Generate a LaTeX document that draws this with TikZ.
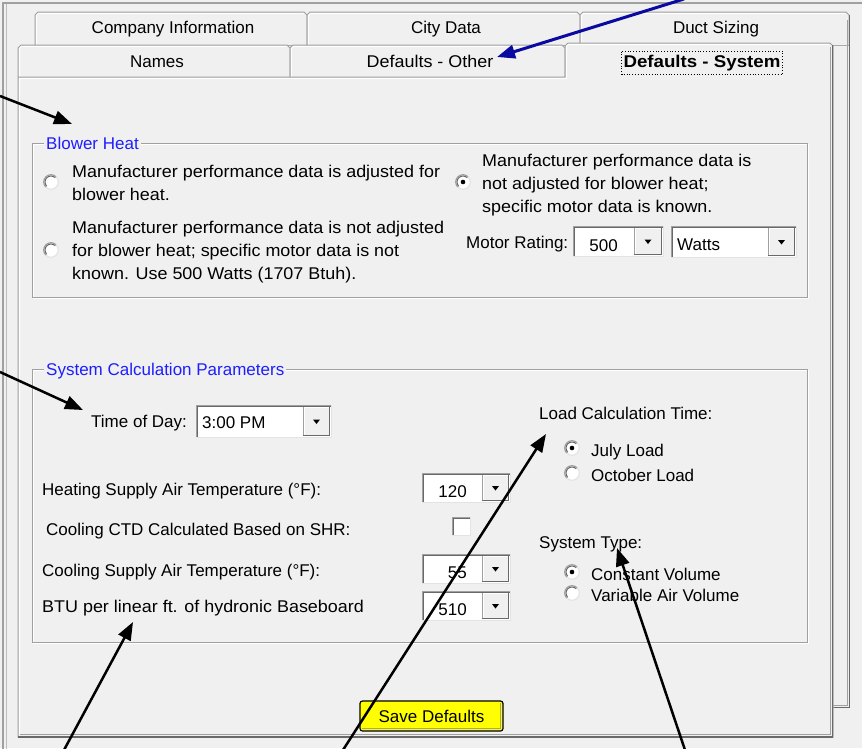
\documentclass[tikz,border=0pt]{standalone}
\usepackage{fontspec}
\setmainfont{Liberation Sans}
\newfontfamily\widefont[FakeStretch=1.055]{Liberation Sans}
\newfontfamily\wideboldfont[FakeStretch=1.1]{Liberation Sans}
\usetikzlibrary{arrows.meta}
\definecolor{bg}{HTML}{F0F0F0}
\definecolor{edge}{HTML}{A0A0A0}
\definecolor{dark}{HTML}{696969}
\definecolor{lite}{HTML}{E3E3E3}
\definecolor{grpblue}{HTML}{1E1EFF}
\definecolor{arrblue}{HTML}{0A0AA0}
\definecolor{btnyellow}{HTML}{FFFF00}
\newcommand\uifont{\fontsize{17}{23}\selectfont}
% combo box: x1 y1 x2 y2 buttonleft
\newcommand\cbox[5]{%
  \fill[white] (#1,#2) rectangle (#3,#4);
  \draw[edge,line width=1pt] (#1+0.5,#4) -- (#1+0.5,#2+0.5) -- (#3,#2+0.5);
  \draw[dark,line width=1pt] (#1+1.5,#4-1) -- (#1+1.5,#2+1.5) -- (#3-1,#2+1.5);
  \draw[lite,line width=1pt] (#1,#4-0.5) -- (#3-0.5,#4-0.5) -- (#3-0.5,#2);
  \fill[bg] (#5,#2+2) rectangle (#3-2,#4-2);
  \draw[edge,line width=1pt] (#5+0.5,#4-2) -- (#5+0.5,#2+2);
  \draw[dark,line width=1pt] (#5,#4-2.5) -- (#3-2.5,#4-2.5) -- (#3-2.5,#2+2);
  \draw[white,line width=1pt] (#5+1.5,#4-3) -- (#5+1.5,#2+2.5) -- (#3-3,#2+2.5);
  \fill[black] ({(#5+#3)/2-1-3.5},{(#2+#4)/2-2}) -- ++(7,0) -- ++(-3.5,4.5) -- cycle;
}
% radio: x y
\newcommand\radiob[2]{%
  \fill[white] (#1,#2) circle (7.5pt);
  \draw[edge,line width=1.2pt] (#1,#2) ++(45:7.3pt) arc[start angle=45,end angle=225,radius=7.3pt];
  \draw[dark,line width=1pt] (#1,#2) ++(45:6pt) arc[start angle=45,end angle=225,radius=6pt];
  \draw[lite,line width=1.2pt] (#1,#2) ++(225:7.3pt) arc[start angle=225,end angle=405,radius=7.3pt];
}
\newcommand\radiodot[2]{\fill[black] (#1,#2) circle (2.3pt);}
% tab: x1 x2 ytop ybottom
\newcommand\tabshape[4]{%
  \filldraw[fill=bg,draw=edge,line width=1pt] (#1,#4) -- (#1,#3+3) -- (#1+3,#3) -- (#2-3,#3) -- (#2,#3+3) -- (#2,#4);
  \draw[white,line width=1pt] (#1+1.5,#4) -- (#1+1.5,#3+3.5) -- (#1+3.5,#3+1.5) -- (#2-3.5,#3+1.5);
}
\begin{document}
\begin{tikzpicture}[x=1pt,y=-1pt,
  txt/.style={anchor=base west,inner sep=0pt,font=\uifont},
  widetxt/.style={anchor=base west,inner sep=0pt,font=\widefont\uifont},
  numtxt/.style={anchor=base east,inner sep=0pt,font=\uifont},
  tabtxt/.style={anchor=base,inner sep=0pt,font=\uifont},
  grplbl/.style={anchor=base west,inner xsep=2pt,inner ysep=1pt,fill=bg,text=grpblue,font=\uifont},
  arr/.style={line width=2.5pt,-{Triangle[length=18pt,width=13.5pt]}},
]
\useasboundingbox (0,0) rectangle (862,748);
\fill[bg] (0,0) rectangle (862,748);
% outer frame
\draw[edge,line width=1.2pt] (3,760) -- (3,3) -- (870,3);
\draw[edge!70,line width=1pt] (6,760) -- (6,4);
% back panel and back tabs
\filldraw[fill=bg,draw=edge,line width=1pt] (35,45) rectangle (849,707);
\tabshape{35}{307}{12}{45}
\tabshape{307}{580}{12}{45}
\tabshape{580}{849}{12}{45}
\draw[edge,line width=1pt] (847,20) -- (847,705) -- (833,705);
\draw[dark,line width=1.5pt] (849.5,15) -- (849.5,707.5) -- (833,707.5);
\node[tabtxt] (tci) at (173,33) {Company Information};
\node[tabtxt] (tcd) at (446,33) {City Data};
\node[tabtxt] (tds) at (716,33) {Duct Sizing};
% front tabs
\tabshape{18}{290}{45}{77}
\tabshape{290}{565}{45}{77}
\node[tabtxt] (tn) at (157,67) {Names};
\node[tabtxt,font=\widefont\uifont] (tdo) at (430,67) {Defaults - Other};
% front panel with selected tab
\filldraw[fill=bg,draw=edge,line width=1pt] (18,737) -- (18,77) -- (565,77) -- (565,46) -- (568,43) -- (830,43) -- (833,46) -- (833,737) -- cycle;
\draw[white,line width=1pt] (19.5,735) -- (19.5,78.5) -- (566.5,78.5) -- (566.5,46.5) -- (568.5,44.5) -- (829,44.5);
\draw[edge,line width=1pt] (830.5,47) -- (830.5,734.5) -- (20,734.5);
\draw[dark,line width=1.5pt] (832.5,45) -- (832.5,737) -- (18,737);
\node[tabtxt,font=\wideboldfont\uifont\bfseries] (tdsys) at (702,67) {Defaults - System};
\draw[black,dotted,line width=0.8pt] (621.5,51.5) rectangle (782.5,74.5);

% Blower Heat group
\draw[white,line width=1pt] (33.5,144.5) rectangle (808.5,298.5);
\draw[edge,line width=1pt] (32.5,143.5) rectangle (807.5,297.5);
\node[grplbl] (bhl) at (44,149) {Blower Heat};
\radiob{51}{182}
\radiob{51}{250}
\radiob{463}{182}\radiodot{463}{182}
\node[widetxt] (r1a) at (72,177) {Manufacturer performance data is adjusted for};
\node[widetxt] (r1b) at (72,200) {blower heat.};
\node[widetxt] (r2a) at (72,233) {Manufacturer performance data is not adjusted};
\node[widetxt] (r2b) at (72,256) {for blower heat; specific motor data is not};
\node[widetxt] (r2c) at (72,279) {known. Use 500 Watts (1707 Btuh).};
\node[widetxt] (r3a) at (482,166) {Manufacturer performance data is};
\node[widetxt] (r3b) at (482,189) {not adjusted for blower heat;};
\node[widetxt] (r3c) at (482,212) {specific motor data is known.};
\node[txt] (mr) at (466,248) {Motor Rating:};
\cbox{573}{226}{664}{257}{634}
\node[numtxt] (v500) at (618,251) {500};
\cbox{671}{226}{797}{258}{768}
\node[txt] (watts) at (677,250) {Watts};

% System Calculation Parameters group
\draw[white,line width=1pt] (33.5,370.5) rectangle (808.5,643.5);
\draw[edge,line width=1pt] (32.5,369.5) rectangle (807.5,642.5);
\node[grplbl] (scl) at (44,375) {System Calculation Parameters};
\node[txt] (tod) at (91,427) {Time of Day:};
\cbox{196}{405}{332}{438}{303}
\node[txt] (todv) at (202,428) {3:00 PM};
\node[txt] (hs) at (42,495) {Heating Supply Air Temperature (°F):};
\cbox{422}{473}{511}{503}{482}
\node[numtxt] (v120) at (467,497) {120};
\node[txt] (ctd) at (46,535) {Cooling CTD Calculated Based on SHR:};
\fill[white] (452,517) rectangle (471,536);
\draw[edge,line width=1pt] (452.5,536) -- (452.5,517.5) -- (471,517.5);
\draw[dark,line width=1pt] (453.5,535) -- (453.5,518.5) -- (470,518.5);
\draw[lite,line width=1pt] (452,535.5) -- (470.5,535.5) -- (470.5,517);
\node[txt] (cs) at (42,576) {Cooling Supply Air Temperature (°F):};
\cbox{422}{554}{511}{584}{482}
\node[numtxt] (v55) at (467,578) {55};
\node[widetxt] (btu) at (42,612) {BTU per linear ft. of hydronic Baseboard};
\cbox{422}{591}{511}{621}{482}
\node[numtxt] (v510) at (467,615) {510};
\node[txt] (lct) at (539,419) {Load Calculation Time:};
\radiob{572}{448}\radiodot{572}{448}
\node[txt] (jl) at (591,456) {July Load};
\radiob{572}{473}
\node[txt] (ol) at (591,481) {October Load};
\node[txt] (st) at (539,548) {System Type:};
\radiob{572}{572}\radiodot{572}{572}
\node[txt] (cv) at (591,580) {Constant Volume};
\radiob{572}{593}
\node[txt] (vav) at (591,601) {Variable Air Volume};

% Save Defaults button
\node[draw=black,line width=1.2pt,fill=btnyellow,rounded corners=2.5pt,minimum width=143pt,minimum height=30pt,inner sep=0pt,font=\uifont] (save) at (431.5,716) {Save Defaults};
\draw[edge,line width=1pt] (362,728.5) -- (500.5,728.5) -- (500.5,703);

% arrows
\coordinate (a1s) at (0,96);   \coordinate (a1e) at (72,124);
\coordinate (a2s) at (0,372);  \coordinate (a2e) at (83,410);
\coordinate (a3s) at (64,750); \coordinate (a3e) at (133,622);
\coordinate (a4s) at (343,750);\coordinate (a4e) at (546,434);
\coordinate (a5s) at (685,750);\coordinate (a5e) at (617,548);
\coordinate (a6s) at (684,-1); \coordinate (a6e) at (497,57);
\draw[arr] (a1s) -- (a1e);
\draw[arr] (a2s) -- (a2e);
\draw[arr] (a3s) -- (a3e);
\draw[arr] (a4s) -- (a4e);
\draw[arr] (a5s) -- (a5e);
\draw[arr,arrblue,line width=3pt] (a6s) -- (a6e);
\end{tikzpicture}
\end{document}
